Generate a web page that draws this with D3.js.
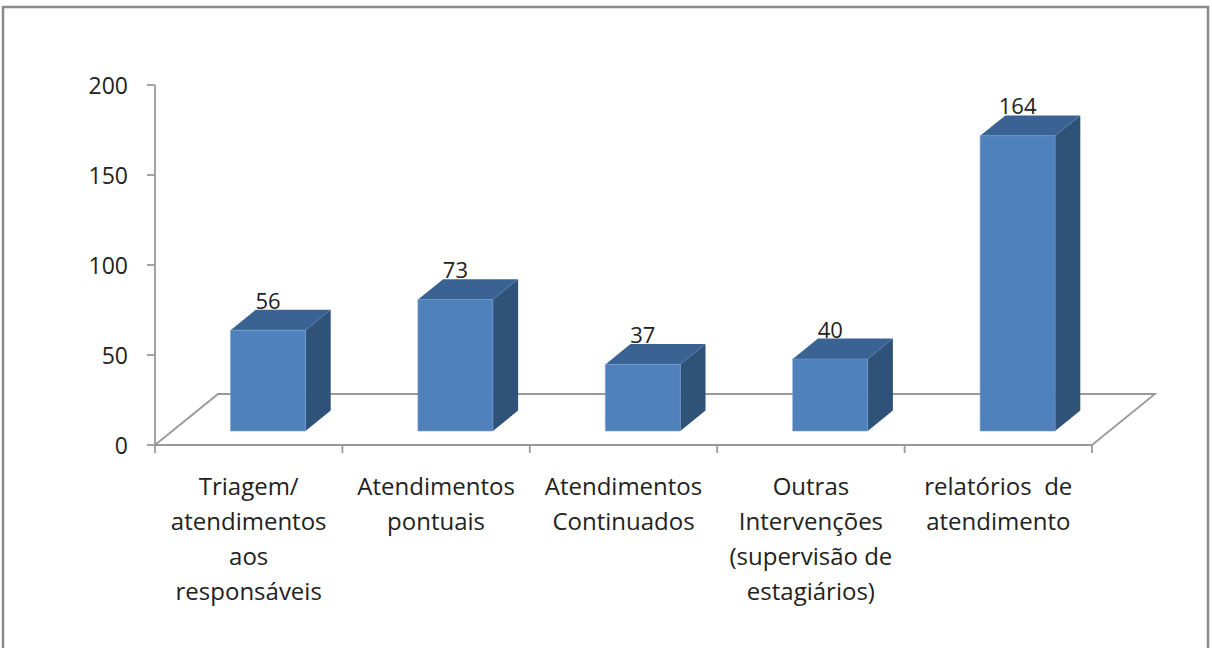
<!DOCTYPE html>
<html>
<head>
<meta charset="utf-8">
<title>Atendimentos</title>
<script src="https://d3js.org/d3.v7.min.js"></script>
<style>
  body { margin: 0; background: #fff; }
  text { font-family: 'Open Sans', sans-serif; fill: #222; }
</style>
</head>
<body>
<svg></svg>
<script>
// chart data
const categories = [
  ["Triagem/", "atendimentos", "aos", "responsáveis"],
  ["Atendimentos", "pontuais"],
  ["Atendimentos", "Continuados"],
  ["Outras", "Intervenções", "(supervisão de", "estagiários)"],
  ["relatórios  de", "atendimento"]
]
const values = [56, 73, 37, 40, 164]
const yTicks = [0, 50, 100, 150, 200]

let width = 1212, height = 648

let svg = d3.select("svg")
  .attr("width", width)
  .attr("height", height)

// outer frame
svg.append("rect")
  .attr("x", 3).attr("y", 7)
  .attr("width", 1205).attr("height", 680)
  .attr("fill", "none")
  .attr("stroke", "#8a8a8a")
  .attr("stroke-width", 2.5)

// scales
let y = d3.scaleLinear().domain([0, 200]).range([445, 85])
let x = d3.scaleBand()
  .domain(d3.range(values.length))
  .range([155, 1092])
  .paddingInner(0.6)
  .paddingOuter(0.3)

// depth vector of the floor (3d effect)
const depth = [63, -51]
const z0 = 0.275, z1 = 0.675
const shift = 2 // bars sit a bit right of the band
const proj = (px, py, z) => [px + z * depth[0], py + z * depth[1]]

// floor
let f = [proj(155, 445, 0), proj(155, 445, 1), proj(1092, 445, 1), proj(1092, 445, 0)]
svg.append("path")
  .attr("d", "M" + f[0] + "L" + f[1] + "L" + f[2] + "L" + f[3])
  .attr("fill", "none")
  .attr("stroke", "#999")
  .attr("stroke-width", 1.8)

// y axis
let yAxis = svg.append("g")
yAxis.append("line")
  .attr("x1", 155).attr("x2", 155)
  .attr("y1", y(200)).attr("y2", y(0))
  .attr("stroke", "#999").attr("stroke-width", 1.8)
yAxis.selectAll(".tick")
  .data(yTicks)
  .enter()
  .append("line")
  .attr("x1", 147).attr("x2", 155)
  .attr("y1", d => y(d)).attr("y2", d => y(d))
  .attr("stroke", "#999").attr("stroke-width", 1.8)
yAxis.selectAll("text")
  .data(yTicks)
  .enter()
  .append("text")
  .attr("x", 128)
  .attr("y", d => y(d) + 3)
  .attr("text-anchor", "end")
  .attr("dominant-baseline", "middle")
  .style("font-size", "23px")
  .text(d => d)

// x axis
svg.append("line")
  .attr("x1", 155).attr("x2", 1092)
  .attr("y1", 445).attr("y2", 445)
  .attr("stroke", "#999").attr("stroke-width", 1.8)
svg.selectAll(".xtick")
  .data(d3.range(values.length + 1))
  .enter()
  .append("line")
  .attr("x1", i => 155 + i * x.step())
  .attr("x2", i => 155 + i * x.step())
  .attr("y1", 445).attr("y2", 453)
  .attr("stroke", "#999").attr("stroke-width", 1.8)

// category labels
let labels = svg.selectAll(".cat")
  .data(categories)
  .enter()
  .append("text")
  .attr("text-anchor", "middle")
  .style("font-size", "24px")
labels.selectAll("tspan")
  .data((d, i) => d.map(t => ({ t: t, i: i })))
  .enter()
  .append("tspan")
  .attr("x", d => x(d.i) + x.bandwidth() / 2)
  .attr("y", (d, j) => 495 + j * 35)
  .style("white-space", "pre")
  .text(d => d.t)

// bars
let bars = svg.selectAll(".bar")
  .data(values)
  .enter()
  .append("g")

bars.each(function(v, i) {
  let g = d3.select(this)
  let xl = x(i) + shift, xr = x(i) + x.bandwidth() + shift
  let a = proj(xl, y(0), z0), b = proj(xr, y(0), z0)
  let c = proj(xr, y(v), z0), d = proj(xl, y(v), z0)
  let c2 = proj(xr, y(v), z1), d2 = proj(xl, y(v), z1)
  let b2 = proj(xr, y(0), z1)

  // side face
  g.append("path")
    .attr("d", "M" + b + "L" + b2 + "L" + c2 + "L" + c + "Z")
    .attr("fill", "#2f5279")
  // top face
  g.append("path")
    .attr("d", "M" + d + "L" + c + "L" + c2 + "L" + d2 + "Z")
    .attr("fill", "#3a6394")
  // front face
  g.append("path")
    .attr("d", "M" + a + "L" + b + "L" + c + "L" + d + "Z")
    .attr("fill", "#4f81bd")
    .attr("stroke", "#6f9ad0")
    .attr("stroke-width", 0.6)

  // value label
  g.append("text")
    .attr("x", (a[0] + b[0]) / 2)
    .attr("y", d2[1] - 1)
    .attr("text-anchor", "middle")
    .style("font-size", "22px")
    .text(v)
})
</script>
</body>
</html>
